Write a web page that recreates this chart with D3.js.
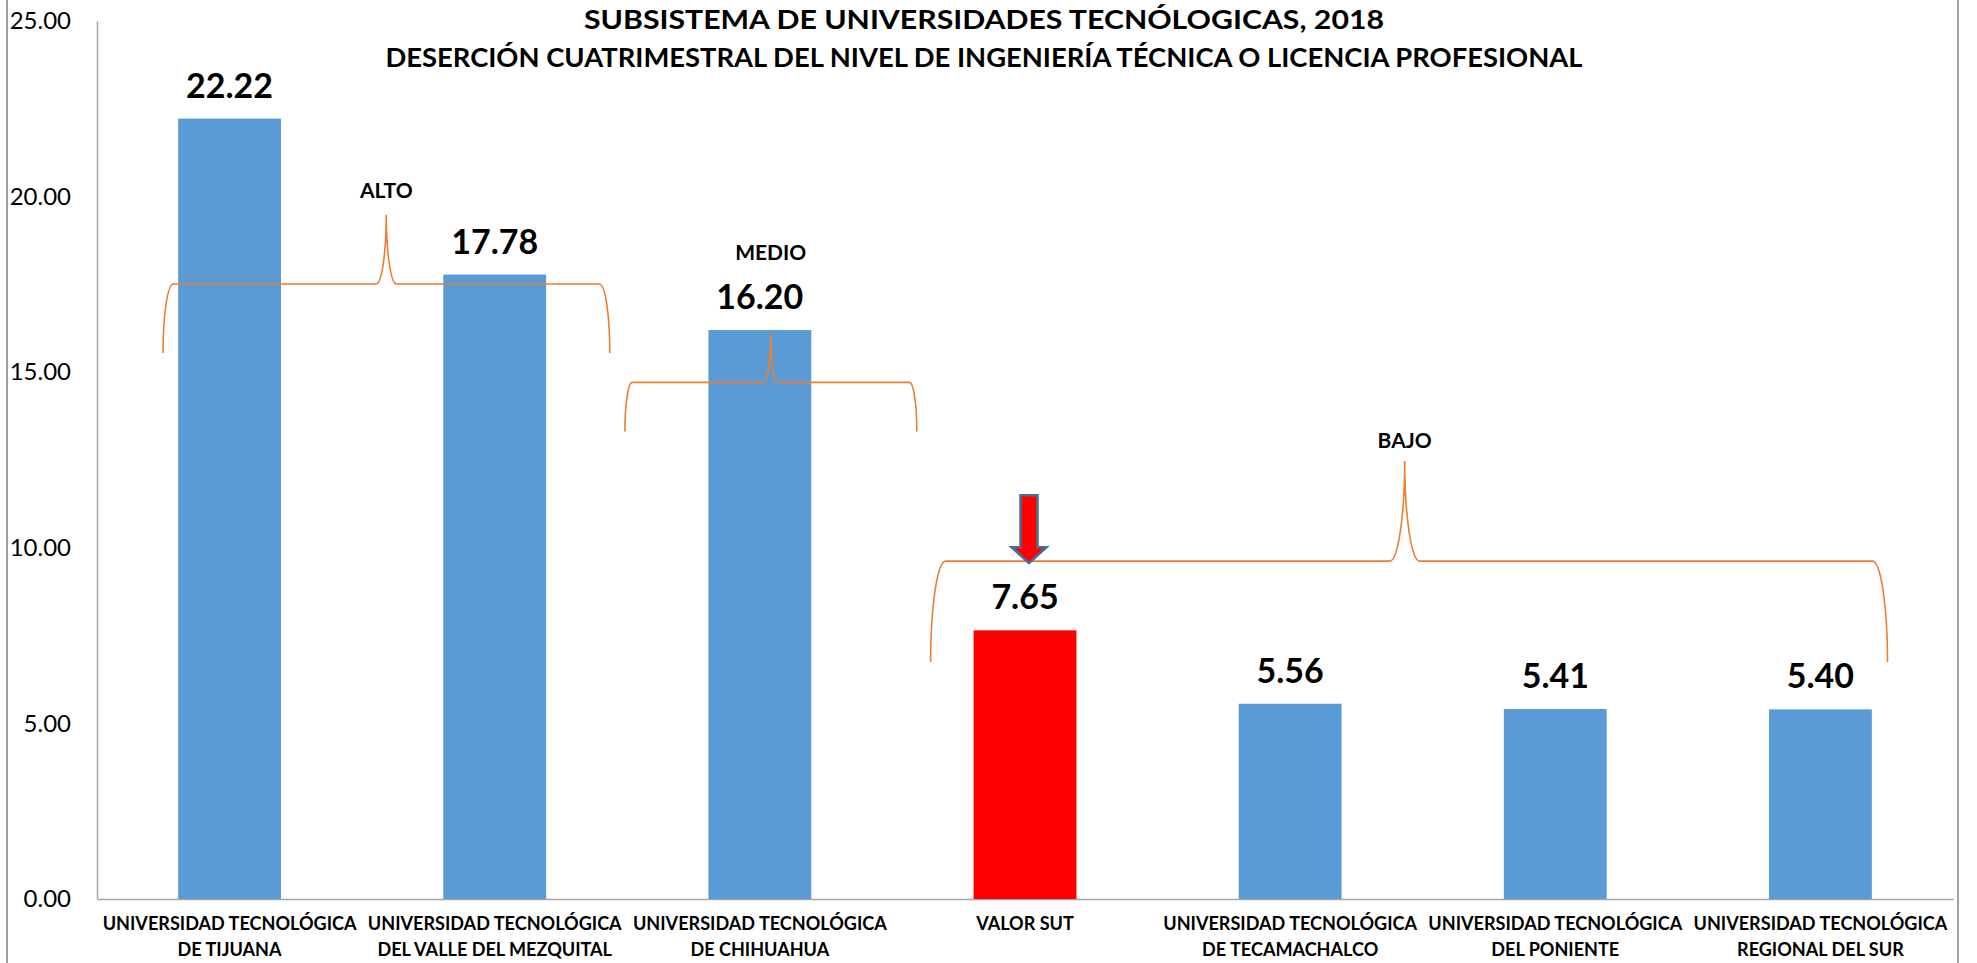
<!DOCTYPE html>
<html>
<head>
<meta charset="utf-8">
<script src="https://cdn.jsdelivr.net/npm/d3@7"></script>
<style>
  html, body { margin: 0; padding: 0; background: #fff; }
  svg { display: block; }
  text { font-family: Lato, "Open Sans", sans-serif; }
</style>
</head>
<body>
<svg id="chart" width="1977" height="963"></svg>
<script>
// ---- data ----
const categories = [
  "UNIVERSIDAD TECNOLÓGICA DE TIJUANA",
  "UNIVERSIDAD TECNOLÓGICA DEL VALLE DEL MEZQUITAL",
  "UNIVERSIDAD TECNOLÓGICA DE CHIHUAHUA",
  "VALOR SUT",
  "UNIVERSIDAD TECNOLÓGICA DE TECAMACHALCO",
  "UNIVERSIDAD TECNOLÓGICA DEL PONIENTE",
  "UNIVERSIDAD TECNOLÓGICA REGIONAL DEL SUR"
];
const values = [22.22, 17.78, 16.20, 7.65, 5.56, 5.41, 5.40];
const highlighted = "VALOR SUT";
const yTicks = [0, 5, 10, 15, 20, 25];
const yTickLabels = ["0.00", "5.00", "10.00", "15.00", "20.00", "25.00"];
const groupLabels = ["ALTO", "MEDIO", "BAJO"];
const titleLines = [
  "SUBSISTEMA DE UNIVERSIDADES TECNÓLOGICAS, 2018",
  "DESERCIÓN CUATRIMESTRAL DEL NIVEL DE INGENIERÍA TÉCNICA O LICENCIA PROFESIONAL"
];

// ---- layout ----
const W = 1977, H = 963;
const plot = { left: 97, right: 1953, top: 21, bottom: 899 };
const svg = d3.select("#chart");

const x = d3.scaleBand().domain(categories)
  .range([plot.left, plot.right]).paddingInner(0.612).paddingOuter(0.306);
const y = d3.scaleLinear().domain([0, 25]).range([plot.bottom, plot.top]);
const step = x.step();
const xu = u => plot.left + u * step; // position in band units

// frame lines
svg.append("line").attr("x1", 7).attr("x2", 7).attr("y1", 0).attr("y2", H)
  .attr("stroke", "#a0a0a0").attr("stroke-width", 2);
svg.append("line").attr("x1", 1958).attr("x2", 1958).attr("y1", 0).attr("y2", H)
  .attr("stroke", "#a0a0a0").attr("stroke-width", 2);

// y axis
const yAxis = d3.axisLeft(y).tickValues(yTicks)
  .tickFormat((d, i) => yTickLabels[i]).tickSize(0).tickPadding(26);
const gy = svg.append("g").attr("transform", `translate(${plot.left},0)`).call(yAxis);
gy.select(".domain").attr("stroke", "#a6a6a6").attr("stroke-width", 1.5);
gy.selectAll("text").attr("font-size", 24).attr("fill", "#000")
  .attr("font-family", "Lato, sans-serif");

// x axis
const xAxis = d3.axisBottom(x).tickSize(0).tickFormat("");
const gx = svg.append("g").attr("transform", `translate(0,${plot.bottom})`).call(xAxis);
gx.select(".domain").attr("stroke", "#a6a6a6").attr("stroke-width", 1.5);

// bars
svg.append("g").selectAll("rect").data(categories).join("rect")
  .attr("x", d => x(d))
  .attr("width", x.bandwidth())
  .attr("y", (d, i) => y(values[i]))
  .attr("height", (d, i) => y(0) - y(values[i]))
  .attr("fill", d => d === highlighted ? "#ff0000" : "#5b9bd5");

// value labels
svg.append("g").selectAll("text").data(categories).join("text")
  .attr("x", d => x(d) + x.bandwidth() / 2)
  .attr("y", (d, i) => y(values[i]) - 21)
  .attr("text-anchor", "middle")
  .attr("font-weight", 700)
  .attr("font-size", 34)
  .attr("fill", "#000")
  .text((d, i) => values[i].toFixed(2));

// category labels (two lines)
const catG = svg.append("g");
const prefix = "UNIVERSIDAD TECNOLÓGICA";
categories.forEach(c => {
  const lines = c.startsWith(prefix + " ") ? [prefix, c.slice(prefix.length + 1)] : [c];
  const t = catG.append("text")
    .attr("x", x(c) + x.bandwidth() / 2)
    .attr("text-anchor", "middle")
    .attr("font-weight", 700)
    .attr("font-size", 18)
    .attr("fill", "#000");
  lines.forEach((ln, i) => {
    t.append("tspan").attr("x", x(c) + x.bandwidth() / 2)
      .attr("y", 930 + i * 26).text(ln);
  });
});
// fit category label size to reference width
{
  const probe = catG.append("text").attr("font-weight", 700).attr("font-size", 18).text(prefix);
  const w = probe.node().getComputedTextLength();
  probe.remove();
  const fs = 18 * 254 / w;
  catG.selectAll("text").attr("font-size", fs);
}

// title
const titleG = svg.append("g");
const titleWidths = [800, 1198];
const tl = titleLines.map((s, i) => titleG.append("text")
  .attr("x", 984).attr("y", [29, 67][i])
  .attr("text-anchor", "middle").attr("font-weight", 700)
  .attr("font-size", 26).attr("fill", "#000").text(s));
{
  const w = tl[1].node().getComputedTextLength();
  const fs = 26 * 1198 / w;
  tl.forEach(t => t.attr("font-size", fs));
  tl[0].attr("textLength", titleWidths[0]).attr("lengthAdjust", "spacingAndGlyphs");
}

// braces (group annotations)
const braces = [
  { label: groupLabels[0], u0: 0.249, u1: 1.934, uc: 1.091, vTop: 19.48, vMid: 17.51, vBot: 15.55, labelY: 198 },
  { label: groupLabels[1], u0: 1.991, u1: 3.092, uc: 2.541, vTop: 16.10, vMid: 14.71, vBot: 13.31, labelY: 260 },
  { label: groupLabels[2], u0: 3.144, u1: 6.753, uc: 4.932, vTop: 12.47, vMid: 9.62, vBot: 6.75, labelY: 448 }
];
braces.forEach(b => {
  const xL = xu(b.u0), xR = xu(b.u1), xc = xu(b.uc);
  const yt = y(b.vTop), yh = y(b.vMid), yb = y(b.vBot);
  const h = (yb - yt) / 2;
  const w = h * 0.15;
  const d = `M${xL},${yb} A${w},${yb - yh} 0 0 1 ${xL + w},${yh} L${xc - w},${yh} ` +
            `A${w},${yh - yt} 0 0 0 ${xc},${yt} A${w},${yh - yt} 0 0 0 ${xc + w},${yh} ` +
            `L${xR - w},${yh} A${w},${yb - yh} 0 0 1 ${xR},${yb}`;
  svg.append("path").attr("d", d).attr("fill", "none")
    .attr("stroke", "#ed7d31").attr("stroke-width", 1.6);
  svg.append("text").attr("x", xc).attr("y", b.labelY)
    .attr("text-anchor", "middle").attr("font-weight", 700)
    .attr("font-size", 21).attr("fill", "#000").text(b.label);
});

// arrow above highlighted bar
{
  const cx = x(highlighted) + x.bandwidth() / 2 + 4;
  const tip = y(braces[2].vMid) + 2;
  const top = tip - 68, headH = 16, shaftW = 8.5, headW = 17.5;
  const pts = [
    [cx - shaftW, top], [cx + shaftW, top], [cx + shaftW, tip - headH],
    [cx + headW, tip - headH], [cx, tip], [cx - headW, tip - headH],
    [cx - shaftW, tip - headH]
  ];
  svg.append("path").attr("d", d3.line()(pts) + "Z")
    .attr("fill", "#ff0000").attr("stroke", "#41719c").attr("stroke-width", 2.5)
    .attr("stroke-linejoin", "miter");
}
</script>
</body>
</html>
